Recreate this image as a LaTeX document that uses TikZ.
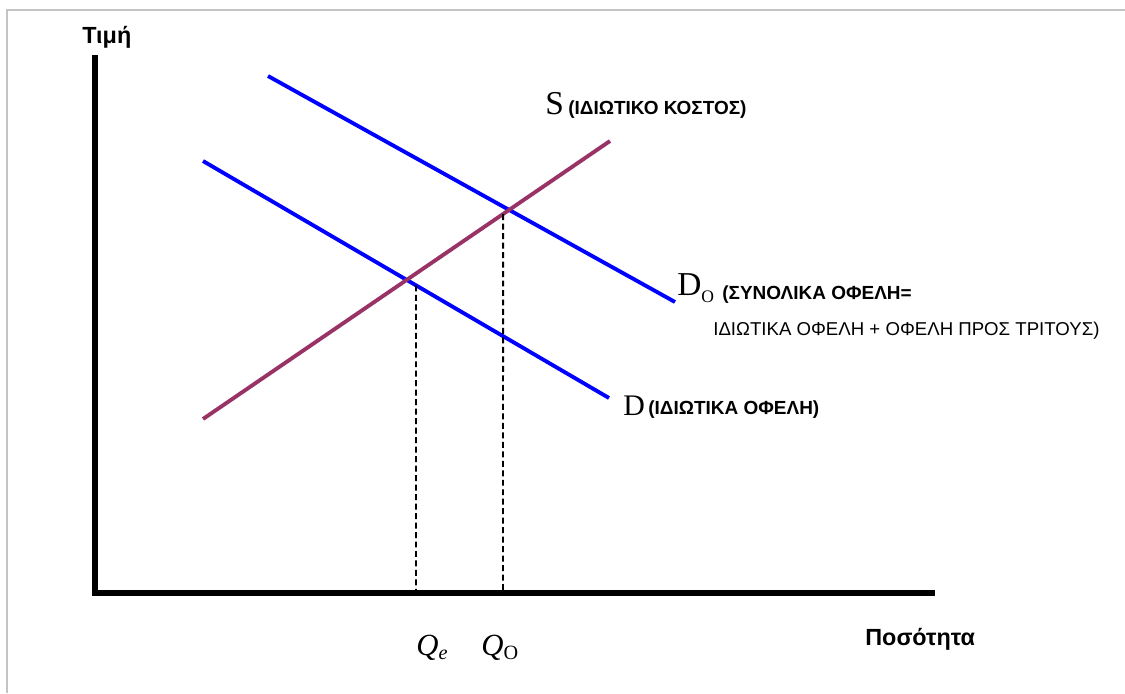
\documentclass[tikz,border=0pt]{standalone}
\usepackage{fontspec}
\setmainfont{Liberation Serif}
\newfontfamily\arialf{Liberation Sans}
\definecolor{supplycol}{RGB}{153,51,102}
\definecolor{framecol}{RGB}{196,196,196}
\begin{document}
\begin{tikzpicture}[x=0.02cm,y=-0.02cm,
  axis/.style={line width=2.9pt},
  demand/.style={draw=blue,line width=2.2pt},
  supply/.style={draw=supplycol,line width=2.2pt},
  guide/.style={dash pattern=on 3.4pt off 2pt,line width=1.1pt},
  lbl/.style={inner sep=0pt,anchor=base west},
  axlbl/.style={lbl,font=\arialf\bfseries\fontsize{13.3}{15}\selectfont},
  boldlbl/.style={lbl,font=\arialf\bfseries\fontsize{10.8}{12}\selectfont},
  plainlbl/.style={lbl,font=\arialf\fontsize{10.6}{12}\selectfont},
  curvelbl/.style={lbl,font=\fontsize{19}{21}\selectfont},
  qlbl/.style={lbl,font=\itshape\fontsize{17.5}{19}\selectfont}]
\useasboundingbox (0,0) rectangle (1125,693);
% frame
\coordinate (f1) at (7,693);
\coordinate (f2) at (7,10);
\coordinate (f3) at (1125,10);
\draw[framecol,line width=1.2pt] (f1) -- (f2) -- (f3);
% axes
\coordinate (ytop) at (95,55);
\coordinate (o) at (95,593);
\coordinate (xend) at (935,593);
\draw[axis] (ytop) -- (o) -- (xend);
% curves
\coordinate (do1) at (268,76);
\coordinate (do2) at (675,302);
\coordinate (d1) at (203,161);
\coordinate (d2) at (609,398);
\coordinate (s1) at (203,419);
\coordinate (s2) at (610,141);
\draw[demand] (do1) -- (do2);
\draw[demand] (d1) -- (d2);
\draw[supply] (s1) -- (s2);
% guides
\coordinate (qe) at (416,593);
\coordinate (qeup) at (416,0);
\coordinate (qo) at (503,593);
\coordinate (qoup) at (503,0);
\coordinate (qetop) at (intersection of d1--d2 and qe--qeup);
\coordinate (qotop) at (intersection of s1--s2 and qo--qoup);
\draw[guide] (qetop) -- (qe);
\draw[guide] (qotop) -- (qo);
% labels
\node[axlbl] (price) at (82,43) {Τιμή};
\node[axlbl] (qty) at (865,645) {Ποσότητα};
\node[curvelbl] (sS) at (545,114) {S};
\node[boldlbl] (sT) at (568,114) {(ΙΔΙΩΤΙΚΟ ΚΟΣΤΟΣ)};
\node[curvelbl] (doD) at (677,295) {D\raisebox{-4pt}{\fontsize{10}{10}\selectfont O}};
\node[boldlbl] (doT) at (722,299) {(ΣΥΝΟΛΙΚΑ ΟΦΕΛΗ=};
\node[plainlbl] (doT2) at (713,335) {ΙΔΙΩΤΙΚΑ ΟΦΕΛΗ + ΟΦΕΛΗ ΠΡΟΣ ΤΡΙΤΟΥΣ)};
\node[curvelbl,font=\fontsize{17}{19}\selectfont] (dD) at (623,415) {D};
\node[boldlbl] (dT) at (648,414) {(ΙΔΙΩΤΙΚΑ ΟΦΕΛΗ)};
\node[qlbl] (qeL) at (416,655) {Q\raisebox{-2.5pt}{\fontsize{11.5}{11}\selectfont e}};
\node[qlbl] (qoL) at (481,655) {Q\raisebox{-2.5pt}{\upshape\fontsize{11.5}{11}\selectfont O}};
\end{tikzpicture}
\end{document}
